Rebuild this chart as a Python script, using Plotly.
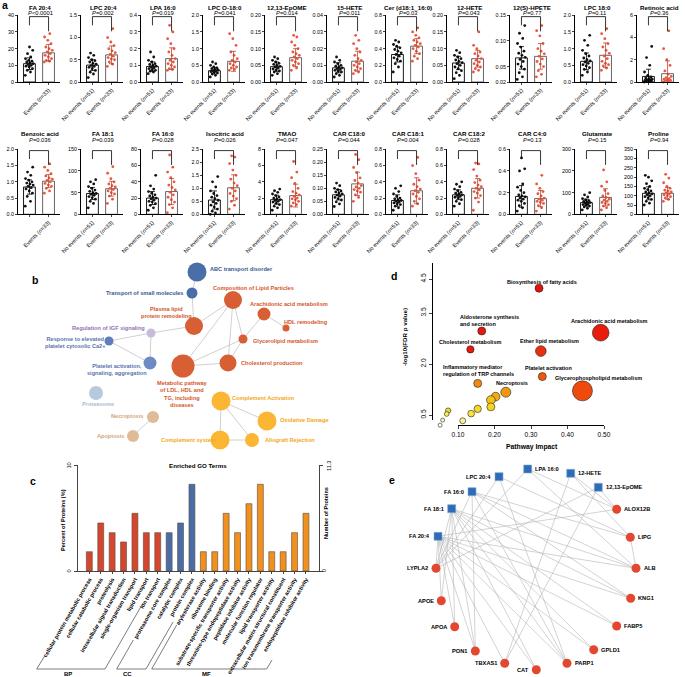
import plotly.graph_objects as go

W, H = 685, 677
FONT = "Liberation Sans, Arial, Helvetica, sans-serif"


def px2x(px):
    return px / W


def px2y(py):
    return 1 - py / H

# ======================= Panel a data =======================
a_titles = ["FA 20:4", "LPC 20:4", "LPA 16:0", "LPC O-18:0", "12,13-EpOME", "15-HETE",
            "Cer (d18:1_16:0)", "12-HETE", "12(S)-HPETE", "LPC 18:0", "Retinoic acid",
            "Benzoic acid", "FA 18:1", "FA 16:0", "Isocitric acid", "TMAO", "CAR C18:0",
            "CAR C18:1", "CAR C18:2", "CAR C4:0", "Glutamate", "Proline"]
a_pvalues = ["<0.0001", "=0.002", "=0.019", "=0.041", "=0.014", "=0.011", "=0.03", "=0.043",
             "=0.77", "=0.11", "=0.36", "=0.036", "=0.039", "=0.028", "=0.026", "=0.047",
             "=0.044", "=0.004", "=0.028", "=0.13", "=0.15", "=0.94"]
a_groups = ["No events (<i>n</i>=51)", "Events (<i>n</i>=33)"]
a_mean_noevents = [11, 0.38, 0.093, 0.34, 0.046, 0.0085, 0.33, 0.057, 0.067, 0.62, 0.5,
                   0.84, 48, 20, 0.55, 1.8, 0.075, 0.17, 0.24, 0.165, 54, 113]
a_sd_noevents = [3.5, 0.12, 0.028, 0.1, 0.014, 0.003, 0.09, 0.02, 0.022, 0.25, 0.65,
                 0.22, 14, 8, 0.35, 0.55, 0.02, 0.07, 0.06, 0.1, 16, 35]
a_mean_events = [17.5, 0.61, 0.14, 0.62, 0.073, 0.0125, 0.43, 0.07, 0.07, 0.8, 0.75,
                 1.02, 59, 28, 1.02, 2.3, 0.117, 0.29, 0.32, 0.145, 78, 113]
a_sd_events = [5, 0.2, 0.065, 0.3, 0.027, 0.006, 0.09, 0.025, 0.025, 0.37, 1.15,
               0.2, 17, 16, 0.5, 1.4, 0.045, 0.16, 0.12, 0.075, 40, 32]
a_yticks = [
    ["0", "10", "20", "30", "40"], ["0.0", "0.5", "1.0", "1.5"], ["0.0", "0.1", "0.2", "0.3", "0.4"],
    ["0.0", "0.5", "1.0", "1.5", "2.0"], ["0.00", "0.05", "0.10", "0.15", "0.20"],
    ["0.00", "0.01", "0.02", "0.03", "0.04"], ["0.0", "0.2", "0.4", "0.6", "0.8"],
    ["0.00", "0.05", "0.10", "0.15", "0.20"], ["0.02", "0.05", "0.10", "0.15"],
    ["0.0", "0.5", "1.0", "1.5", "2.0"], ["0", "2", "4", "6"],
    ["0.0", "0.5", "1.0", "1.5", "2.0"], ["0", "50", "100", "150"], ["0", "20", "40", "60", "80"],
    ["0.0", "0.5", "1.0", "1.5", "2.0", "2.5"], ["0", "2", "4", "6", "8"],
    ["0.00", "0.05", "0.10", "0.15", "0.20", "0.25"], ["0.0", "0.2", "0.4", "0.6", "0.8"],
    ["0.0", "0.2", "0.4", "0.6", "0.8"], ["0.0", "0.2", "0.4", "0.6"], ["0", "100", "200", "300"],
    ["0", "50", "100", "150", "200", "250", "300", "350"]]
a_dots_noevents = [
    [4, 6, 7, 8, 9, 9.5, 10, 10.5, 11, 11.5, 12, 12.5, 13, 14, 15, 17, 19, 21],
    [0.1, 0.18, 0.22, 0.26, 0.3, 0.33, 0.35, 0.37, 0.4, 0.42, 0.45, 0.48, 0.5, 0.55, 0.6, 0.65],
    [0.05, 0.06, 0.065, 0.07, 0.075, 0.08, 0.085, 0.09, 0.095, 0.1, 0.105, 0.11, 0.12, 0.13, 0.15, 0.18],
    [0.15, 0.2, 0.24, 0.27, 0.29, 0.31, 0.33, 0.34, 0.36, 0.38, 0.4, 0.42, 0.45, 0.5, 0.55, 0.6],
    [0.02, 0.025, 0.03, 0.033, 0.036, 0.039, 0.042, 0.045, 0.047, 0.05, 0.053, 0.056, 0.06, 0.065, 0.07, 0.075],
    [0.003, 0.004, 0.005, 0.006, 0.0065, 0.007, 0.0075, 0.008, 0.0085, 0.009, 0.0095, 0.01, 0.011, 0.012, 0.013, 0.015],
    [0.12, 0.18, 0.22, 0.25, 0.27, 0.29, 0.31, 0.33, 0.35, 0.37, 0.39, 0.41, 0.43, 0.45, 0.48, 0.5],
    [0.01, 0.02, 0.028, 0.034, 0.04, 0.045, 0.05, 0.055, 0.058, 0.062, 0.066, 0.07, 0.075, 0.08, 0.088, 0.095],
    [0.025, 0.03, 0.038, 0.045, 0.05, 0.055, 0.06, 0.064, 0.068, 0.072, 0.076, 0.08, 0.088, 0.095, 0.105, 0.115, 0.13],
    [0.2, 0.3, 0.38, 0.43, 0.48, 0.52, 0.56, 0.6, 0.63, 0.67, 0.72, 0.78, 0.85, 0.95, 1.1, 1.25, 1.4],
    [0.0, 0.05, 0.08, 0.1, 0.12, 0.15, 0.18, 0.2, 0.25, 0.3, 0.35, 0.45, 0.6, 0.9, 1.5, 2.2, 3.2],
    [0.25, 0.4, 0.55, 0.65, 0.72, 0.78, 0.82, 0.86, 0.9, 0.93, 0.96, 1.0, 1.05, 1.1, 1.2, 1.3, 1.45],
    [15, 25, 30, 35, 38, 41, 44, 46, 48, 50, 53, 56, 60, 64, 70, 75, 80],
    [5, 8, 11, 13, 15, 16, 17.5, 19, 20, 21, 22.5, 24, 26, 28, 31, 35, 48],
    [0.0, 0.05, 0.12, 0.2, 0.28, 0.35, 0.42, 0.48, 0.54, 0.6, 0.66, 0.72, 0.8, 0.9, 1.05, 1.25, 1.45],
    [0.5, 0.8, 1.0, 1.2, 1.35, 1.5, 1.6, 1.7, 1.8, 1.9, 2.0, 2.15, 2.3, 2.5, 2.7, 2.9, 3.1],
    [0.03, 0.04, 0.048, 0.055, 0.06, 0.065, 0.07, 0.074, 0.078, 0.082, 0.086, 0.09, 0.095, 0.1, 0.11, 0.12],
    [0.05, 0.08, 0.1, 0.12, 0.13, 0.14, 0.15, 0.16, 0.17, 0.18, 0.19, 0.2, 0.22, 0.25, 0.28, 0.32, 0.35],
    [0.1, 0.13, 0.16, 0.18, 0.2, 0.21, 0.22, 0.23, 0.24, 0.25, 0.26, 0.27, 0.29, 0.31, 0.34, 0.37, 0.4],
    [0.03, 0.06, 0.08, 0.1, 0.12, 0.13, 0.14, 0.15, 0.16, 0.17, 0.18, 0.2, 0.22, 0.25, 0.28, 0.4, 0.42, 0.52],
    [20, 28, 34, 38, 42, 45, 48, 51, 54, 57, 60, 63, 67, 72, 80, 90, 100],
    [50, 60, 70, 80, 88, 95, 100, 105, 110, 115, 120, 126, 133, 140, 150, 165, 180, 200, 210]]
a_dots_events = [
    [12, 12.5, 13, 14, 15, 16, 17, 18, 19, 20, 21, 23, 25, 27, 29],
    [0.35, 0.4, 0.45, 0.5, 0.52, 0.55, 0.58, 0.62, 0.66, 0.7, 0.75, 0.82, 0.9, 1.0, 1.2],
    [0.07, 0.075, 0.08, 0.09, 0.1, 0.11, 0.12, 0.13, 0.14, 0.16, 0.18, 0.2, 0.23, 0.26, 0.3, 0.34],
    [0.35, 0.38, 0.42, 0.45, 0.5, 0.55, 0.6, 0.65, 0.7, 0.8, 0.9, 1.1, 1.3, 1.45],
    [0.035, 0.042, 0.05, 0.055, 0.06, 0.065, 0.07, 0.075, 0.08, 0.085, 0.09, 0.1, 0.11, 0.12, 0.135, 0.14],
    [0.005, 0.006, 0.007, 0.008, 0.009, 0.01, 0.011, 0.012, 0.013, 0.014, 0.016, 0.018, 0.02, 0.023, 0.025, 0.028],
    [0.25, 0.28, 0.31, 0.34, 0.37, 0.4, 0.42, 0.44, 0.46, 0.48, 0.5, 0.53, 0.56, 0.6, 0.65],
    [0.03, 0.035, 0.04, 0.045, 0.05, 0.055, 0.06, 0.065, 0.07, 0.078, 0.085, 0.09, 0.1, 0.11, 0.15],
    [0.03, 0.035, 0.042, 0.05, 0.055, 0.06, 0.065, 0.07, 0.075, 0.08, 0.085, 0.095, 0.11, 0.12, 0.13],
    [0.35, 0.42, 0.48, 0.52, 0.56, 0.62, 0.7, 0.78, 0.86, 0.95, 1.05, 1.15, 1.3, 1.45, 1.6],
    [0.0, 0.05, 0.1, 0.15, 0.2, 0.25, 0.3, 0.4, 0.5, 0.7, 1.0, 1.5, 2.0, 3.0, 4.6],
    [0.65, 0.72, 0.8, 0.86, 0.9, 0.95, 1.0, 1.04, 1.08, 1.12, 1.18, 1.25, 1.35, 1.45, 1.55],
    [25, 35, 42, 47, 50, 54, 57, 60, 63, 66, 70, 75, 82, 95, 110],
    [2, 8, 12, 15, 18, 21, 24, 27, 30, 33, 36, 40, 45, 52, 58, 73],
    [0.2, 0.35, 0.5, 0.6, 0.7, 0.8, 0.9, 1.0, 1.1, 1.2, 1.35, 1.5, 1.7, 1.95, 2.2, 2.25],
    [1.0, 1.2, 1.4, 1.6, 1.8, 1.9, 2.0, 2.2, 2.4, 2.6, 2.8, 3.2, 3.8, 4.5, 5.2, 6.5],
    [0.05, 0.065, 0.075, 0.085, 0.09, 0.095, 0.1, 0.105, 0.11, 0.12, 0.13, 0.14, 0.16, 0.18, 0.21, 0.23],
    [0.1, 0.13, 0.16, 0.19, 0.22, 0.25, 0.27, 0.29, 0.31, 0.34, 0.37, 0.42, 0.5, 0.6, 0.7],
    [0.05, 0.15, 0.2, 0.23, 0.26, 0.28, 0.3, 0.32, 0.34, 0.36, 0.39, 0.42, 0.47, 0.55, 0.62, 0.63],
    [0.03, 0.06, 0.08, 0.1, 0.11, 0.12, 0.13, 0.14, 0.15, 0.17, 0.19, 0.21, 0.24, 0.28, 0.36],
    [20, 30, 38, 45, 50, 55, 60, 65, 70, 78, 85, 95, 110, 130, 150, 205],
    [70, 80, 88, 95, 100, 105, 110, 115, 120, 125, 130, 140, 150, 170, 195, 215]]

# ======================= Panel b data =======================
b_terms = ["ABC transport disorder", "Transport of small molecules", "Composition of Lipid Particles",
           "Arachidonic acid metabolism", "HDL remodeling", "Plasma lipid protein remodeling",
           "Regulation of IGF signaling", "Response to elevated platelet cytosolic Ca2+",
           "Glycerolipid metabolism", "Platelet activation, signaling, aggregation",
           "Metabolic pathway of LDL, HDL and TG, including diseases", "Cholesterol production",
           "Proteasome", "Complement Activation", "Necroptosis", "Oxidative Damage", "Apoptosis",
           "Complement system", "Allograft Rejection"]
b_cluster = ["transport", "transport", "lipid", "lipid", "lipid", "lipid", "igf", "platelet", "lipid",
             "platelet", "lipid", "lipid", "proteasome", "complement", "death", "complement", "death",
             "complement", "complement"]
b_node_x = [197, 192, 233, 264, 286, 194, 151, 109, 243, 150, 183, 228, 96, 221, 153, 267, 133, 220, 252]
b_node_y = [272, 293, 300, 314, 328, 326, 333, 341, 339, 363, 366, 363, 393, 401, 417, 421, 436, 440, 440]
b_node_weight = [19, 11, 18, 13, 7, 18, 9, 9, 9, 13, 23, 17, 14, 19, 12, 19, 12, 19, 14]
b_links = [(0, 1), (1, 5), (2, 5), (2, 10), (2, 11), (2, 8), (3, 4), (3, 8), (8, 11), (8, 10),
           (10, 11), (5, 6), (6, 7), (6, 9), (7, 9), (13, 15), (13, 17), (13, 18), (17, 18), (14, 16)]

# ======================= Panel c data =======================
c_terms = ["cellular protein metabolic process", "cellular catabolic process", "proteolysis",
           "intracellular signal transduction", "single-organism transport", "lipid transport",
           "ion transport", "proteasome core complex", "catalytic complex", "protein complex",
           "arylesterase activity", "ribosome binding", "substrate-specific transporter activity",
           "threonine-type endopeptidase activity", "peptidase inhibitor activity",
           "molecular function regulator", "lipid transporter activity",
           "extracellular matrix structural constituent", "ion transmembrane transporter activity",
           "endopeptidase inhibitor activity"]
c_category = ["BP"] * 7 + ["CC"] * 3 + ["MF"] * 10
c_percent = [1.82, 4.53, 3.62, 2.74, 5.44, 3.62, 3.62, 3.62, 4.53, 8.18,
             1.82, 1.82, 5.44, 3.62, 6.35, 8.18, 1.82, 1.82, 3.62, 5.44]

# ======================= Panel d data =======================
d_pathways = ["Biosynthesis of fatty acids", "Aldosterone synthesis and secretion",
              "Cholesterol metabolism", "Arachidonic acid metabolism", "Ether lipid metabolism",
              "Platelet activation", "Glycerophospholipid metabolism",
              "Inflammatory mediator regulation of TRP channels", "Necroptosis",
              "", "", "", "", "", "", "", "", "", ""]
d_impact = [0.322, 0.165, 0.134, 0.491, 0.327, 0.331, 0.441, 0.154, 0.231,
            0.203, 0.190, 0.190, 0.154, 0.136, 0.113, 0.073, 0.069, 0.058, 0.051]
d_neglogp = [4.23, 2.97, 2.43, 2.92, 2.38, 1.63, 1.21, 1.43, 1.17,
             1.04, 0.94, 0.74, 0.68, 0.54, 0.33, 0.63, 0.53, 0.35, 0.20]

# ======================= Panel e data =======================
e_nodes = ["LPA 16:0", "LPC 20:4", "12-HETE", "FA 16:0", "12,13-EpOME", "FA 18:1", "FA 20:4",
           "ALOX12B", "LIPG", "ALB", "KNG1", "FABP5", "GPLD1", "PARP1", "CAT", "TBXAS1",
           "PON1", "APOA", "APOE", "LYPLA2"]
e_kind = ["metabolite"] * 7 + ["protein"] * 13
e_node_x = [527.7, 499, 570.7, 472, 598.3, 451.7, 438, 616.7, 630.3, 636, 630.7, 616.7, 593.7,
            567, 536.3, 504.7, 475.3, 454.7, 441.3, 436]
e_node_y = [469, 476.7, 473.3, 491.7, 487.3, 508.7, 536.3, 509.3, 537.3, 568.3, 598.3, 626,
            649.7, 663.3, 669.7, 663.3, 651, 626.7, 600.7, 568.3]
e_links = [("FA 20:4", t) for t in ["LYPLA2", "APOE", "APOA", "PON1", "TBXAS1", "CAT", "PARP1",
                                     "GPLD1", "FABP5", "KNG1", "ALB", "ALOX12B"]] + \
          [("FA 18:1", t) for t in ["LYPLA2", "APOE", "APOA", "PON1", "CAT", "PARP1", "GPLD1",
                                     "FABP5", "KNG1", "ALB"]] + \
          [("FA 16:0", t) for t in ["LYPLA2", "PON1", "PARP1", "KNG1", "ALB", "LIPG"]] + \
          [("LPC 20:4", t) for t in ["LYPLA2", "LIPG", "PARP1"]] + \
          [("LPA 16:0", t) for t in ["LYPLA2", "ALB", "ALOX12B"]] + \
          [("12-HETE", t) for t in ["ALOX12B", "TBXAS1", "LIPG"]] + \
          [("12,13-EpOME", t) for t in ["ALOX12B", "TBXAS1", "LYPLA2"]] + \
          [("LIPG", "ALB")]

# ======================= Build figure =======================
fig = go.Figure()
layout = dict(width=W, height=H, margin=dict(l=0, r=0, t=0, b=0, autoexpand=False), autosize=False,
              template="none",
              paper_bgcolor="white", plot_bgcolor="rgba(0,0,0,0)", showlegend=False,
              font=dict(family=FONT, size=6, color="black"))
annotations = []
shapes = []
counter = [0]


def new_axes():
    counter[0] += 1
    n = counter[0]
    s = "" if n == 1 else str(n)
    return "x" + s, "y" + s, "xaxis" + s, "yaxis" + s


def ann(text, x, y, size=6, color="black", xanchor="center", yanchor="middle", angle=0,
        bold=False, xref="paper", yref="paper"):
    if bold:
        text = "<b>" + text + "</b>"
    annotations.append(dict(text=text, x=x, y=y, xref=xref, yref=yref, showarrow=False,
                            font=dict(size=size, color=color, family=FONT),
                            xanchor=xanchor, yanchor=yanchor, textangle=angle))


def ann_px(text, px, py, **kw):
    ann(text, px2x(px), px2y(py), **kw)


RED = "#e8573f"
# ---------------- Panel a ----------------
a_axis_left = [18, 81, 141, 203, 265, 327, 386, 447, 510, 575, 637]
a_rows = [dict(top=15.3, bot=82.0, title=7.3, p=13.0), dict(top=149.3, bot=214.3, title=134.0, p=140.0)]
plot_w = 42
for i in range(22):
    row = a_rows[i // 11]
    left = a_axis_left[i % 11]
    xr, yr, xk, yk = new_axes()
    tv = [float(t) for t in a_yticks[i]]
    ymin, ymax = tv[0], tv[-1]
    rng = ymax - ymin
    layout[xk] = dict(domain=[px2x(left), px2x(left + plot_w)], range=[-0.6, 1.6], anchor=yr,
                      automargin=False,
                      showline=True, linecolor="black", linewidth=0.8, ticks="outside", ticklen=2,
                      tickwidth=0.8, tickvals=[0, 1], ticktext=a_groups, tickangle=-45,
                      tickfont=dict(size=5.6, family=FONT), showgrid=False, zeroline=False,
                      fixedrange=True)
    layout[yk] = dict(domain=[px2y(row["bot"]), px2y(row["top"])], range=[ymin, ymax], anchor=xr,
                      automargin=False,
                      showline=True, linecolor="black", linewidth=0.8, ticks="outside", ticklen=2,
                      tickwidth=0.8, tickvals=tv, ticktext=a_yticks[i],
                      tickfont=dict(size=5.4, family=FONT), showgrid=False, zeroline=False,
                      fixedrange=True)
    fig.add_trace(go.Bar(x=[0, 1], y=[a_mean_noevents[i], a_mean_events[i]], width=0.62,
                         marker=dict(color="white", line=dict(color=["black", "#555555"], width=0.9)),
                         xaxis=xr, yaxis=yr, hoverinfo="skip"))
    for g, (vals, col) in enumerate([(a_dots_noevents[i], "#111111"), (a_dots_events[i], RED)]):
        xs = [g + ((j * 0.618034) % 1 - 0.5) * 0.44 for j in range(len(vals))]
        fig.add_trace(go.Scatter(x=xs, y=vals, mode="markers", xaxis=xr, yaxis=yr,
                                 marker=dict(size=2.8, color=col, line=dict(width=0)),
                                 hoverinfo="skip", cliponaxis=False))
    for g, (m, sd, col) in enumerate([(a_mean_noevents[i], a_sd_noevents[i], "black"),
                                      (a_mean_events[i], a_sd_events[i], "#b04a3a")]):
        fig.add_trace(go.Scatter(x=[g], y=[m], mode="markers", xaxis=xr, yaxis=yr,
                                 marker=dict(size=1, opacity=0),
                                 error_y=dict(type="data", array=[sd], visible=True, color=col,
                                              thickness=0.8, width=2.5),
                                 hoverinfo="skip"))
    yt = ymax - 0.02 * rng
    yl = yt - 0.13 * rng
    yrr = yt - 0.22 * rng
    shapes.append(dict(type="path", xref=xr, yref=yr,
                       path=f"M 0 {yl} L 0 {yt} L 1 {yt} L 1 {yrr}",
                       line=dict(color="black", width=0.8)))
    ann_px(a_titles[i], left + 22, row["title"], size=6.2, bold=True)
    ann_px("<i>P</i>" + a_pvalues[i], left + 22, row["p"], size=5.8)

# ---------------- Panel b ----------------
xr, yr, xk, yk = new_axes()
layout[xk] = dict(domain=[px2x(0), px2x(345)], range=[0, 345], anchor=yr, visible=False,
                  fixedrange=True, automargin=False)
layout[yk] = dict(domain=[px2y(462), px2y(258)], range=[462, 258], anchor=xr, visible=False,
                  fixedrange=True, automargin=False)
for a, b in b_links:
    fig.add_trace(go.Scatter(x=[b_node_x[a], b_node_x[b]], y=[b_node_y[a], b_node_y[b]], mode="lines",
                             line=dict(color="#c4c4c4", width=0.8), xaxis=xr, yaxis=yr, hoverinfo="skip"))
b_node_colors = {"transport": "#4a6fa8", "lipid": "#d85f33", "igf": "#c7bcdc", "platelet": "#5f7db8",
                 "proteasome": "#b8c9dd", "complement": "#fbb733", "death": "#dfbc97"}
b_text_colors = {"transport": "#37598f", "lipid": "#d3572b", "igf": "#8e73b5", "platelet": "#5874b0",
                 "proteasome": "#a8bcd5", "complement": "#f4a720", "death": "#d2a67b"}
node_cols = [b_node_colors[c] for c in b_cluster]
node_cols[9] = "#6d8ac2"
fig.add_trace(go.Scatter(x=b_node_x, y=b_node_y, mode="markers", xaxis=xr, yaxis=yr,
                         marker=dict(size=b_node_weight, color=node_cols, line=dict(width=0), opacity=1),
                         hoverinfo="skip", cliponaxis=False))
b_labels = [
    (0, "ABC transport disorder", 208, 269, "left"),
    (1, "Transport of small molecules", 185, 293, "right"),
    (2, "Composition of Lipid Particles", 211, 288, "left"),
    (3, "Arachidonic acid metabolism", 248, 304, "left"),
    (4, "HDL remodeling", 282, 322, "left"),
    (5, "Plasma lipid<br>protein remodeling", 166, 312, "center"),
    (6, "Regulation of IGF signaling", 147, 328, "right"),
    (7, "Response to elevated<br>platelet cytosolic Ca2+", 75, 342, "center"),
    (8, "Glycerolipid metabolism", 251, 341, "left"),
    (9, "Platelet activation,<br>signaling, aggregation", 117, 369, "center"),
    (11, "Cholesterol production", 239, 363, "left"),
    (10, "Metabolic pathway<br>of LDL, HDL and<br>TG, including<br>diseases", 183, 394, "center"),
    (12, "Proteasome", 98, 404, "center"),
    (13, "Complement Activation", 230, 398, "left"),
    (14, "Necroptosis", 145, 416, "right"),
    (15, "Oxidative Damage", 278, 420, "left"),
    (16, "Apoptosis", 126, 436, "right"),
    (17, "Complement system", 218, 440, "right"),
    (18, "Allograft Rejection", 263, 440, "left"),
]
for idx, txt, px, py, anc in b_labels:
    annotations.append(dict(text="<b>" + txt + "</b>", x=px2x(px), y=px2y(py), xref="paper", yref="paper",
                            showarrow=False, xanchor=anc, yanchor="middle", align="center",
                            font=dict(size=5.6, color=b_text_colors[b_cluster[idx]], family=FONT)))

# ---------------- Panel c ----------------
xr, yr, xk, yk = new_axes()
c_colors = {"BP": "#d3472f", "CC": "#4a6da7", "MF": "#f0901f"}
layout[xk] = dict(domain=[px2x(77.7), px2x(319.3)], range=[-1.02, 20.17], anchor=yr, showline=True,
                  automargin=False,
                  linecolor="#444", linewidth=0.8, ticks="outside", ticklen=2, tickwidth=0.6,
                  tickcolor="#444", tickvals=list(range(20)), ticktext=c_terms, tickangle=-60,
                  tickfont=dict(size=5.6, family=FONT, weight="bold"), showgrid=False,
                  zeroline=False, fixedrange=True)
layout[yk] = dict(domain=[px2y(571), px2y(465)], range=[0, 10], anchor=xr, showline=True,
                  automargin=False,
                  linecolor="#444", linewidth=0.8, ticks="outside", ticklen=3, tickwidth=0.6,
                  tickcolor="#444", tickvals=[0, 10], showticklabels=False, showgrid=False,
                  zeroline=False, fixedrange=True)
c_y2 = "y" + str(counter[0] + 100)
layout["yaxis" + str(counter[0] + 100)] = dict(domain=[px2y(571), px2y(465)], range=[0, 11.3],
                                               overlaying=yr, side="right", anchor=xr, showline=True,
                                               automargin=False,
                                               linecolor="#444", linewidth=0.8, ticks="outside",
                                               ticklen=3, tickwidth=0.6, tickcolor="#444",
                                               tickvals=[0, 11.3], showticklabels=False,
                                               showgrid=False, zeroline=False, fixedrange=True)
fig.add_trace(go.Bar(x=list(range(20)), y=c_percent, width=0.52, xaxis=xr, yaxis=yr,
                     marker=dict(color=[c_colors[c] for c in c_category],
                                 line=dict(color="#5a4a40", width=0.6)), hoverinfo="skip"))
fig.add_trace(go.Scatter(x=[0], y=[0], mode="markers", marker=dict(size=1, opacity=0),
                         xaxis=xr, yaxis=c_y2, hoverinfo="skip"))
ann_px("Enriched GO Terms", 198, 465.5, size=6.2, bold=True)
ann_px("10", 68.5, 466, size=5.6, angle=-90)
ann_px("0", 68.5, 571, size=5.6, angle=-90)
ann_px("Percent of Proteins (%)", 63, 520, size=5.6, angle=-90, bold=True)
ann_px("11.3", 329, 466, size=5.6, angle=-90)
ann_px("0", 324, 571, size=5.6, angle=-90)
ann_px("Number of Proteins", 326, 513, size=5.6, angle=-90, bold=True)
c_brackets = [
    ("BP", [(44.7, 656), (36.7, 669), (105, 669), (143, 603)], 68),
    ("CC", [(133.3, 640), (116.7, 669), (146, 669), (173, 622)], 128),
    ("MF", [(176.7, 625), (151.7, 669), (266.7, 669), (272, 660)], 206),
]
for name, pts, lx in c_brackets:
    path = "M " + " L ".join(f"{px2x(a)} {px2y(b)}" for a, b in pts)
    shapes.append(dict(type="path", xref="paper", yref="paper", path=path,
                       line=dict(color="#444", width=0.7)))
    ann_px(name, lx, 673.5, size=6, bold=True)

# ---------------- Panel d ----------------
def dx_val(px):
    return 0.10 + (px - 458) / 365.0


def dy_val(py):
    return 0.5 + (415 - py) / 34.0


xr, yr, xk, yk = new_axes()
layout[xk] = dict(domain=[px2x(425), px2x(650)], range=[dx_val(425), dx_val(650)], anchor=yr,
                  visible=False, fixedrange=True, automargin=False)
layout[yk] = dict(domain=[px2y(432), px2y(258)], range=[dy_val(432), dy_val(258)], anchor=xr,
                  visible=False, fixedrange=True, automargin=False)
d_colors = ["#e8120b", "#e8160b", "#e8180b", "#e81c0b", "#e8300b", "#ec5a0d", "#ee4a0c", "#f08a12",
            "#f1980f", "#f2ab10", "#f5c21a", "#f8d21c", "#f8d826", "#fae43c", "#fbf092", "#eedb24",
            "#f8f064", "#fcfab2", "#fffff2"]
d_sizes = [8, 8, 7.3, 16.7, 10.7, 8, 20, 8, 10, 8.7, 8.7, 8, 7.3, 6.7, 6, 5.3, 4.7, 4, 4]
fig.add_trace(go.Scatter(x=d_impact, y=d_neglogp, mode="markers", xaxis=xr, yaxis=yr,
                         marker=dict(size=d_sizes, color=d_colors, line=dict(color="#222", width=0.6),
                                     opacity=1), hoverinfo="skip", cliponaxis=False))
# decoration axes (R style)
xr2, yr2, xk2, yk2 = new_axes()
layout[xk2] = dict(domain=[px2x(458), px2x(604)], range=[0.10, 0.50], anchor="free", position=px2y(425),
                   automargin=False,
                   showline=True, linecolor="black", linewidth=0.8, ticks="outside",
                   ticklen=3, tickwidth=0.8, tickvals=[0.1, 0.2, 0.3, 0.4, 0.5],
                   ticktext=["0.10", "0.20", "0.30", "0.40", "0.50"], tickfont=dict(size=6.6, family=FONT),
                   showgrid=False, zeroline=False, fixedrange=True)
layout[yk2] = dict(domain=[px2y(420), px2y(263)], range=[dy_val(420), dy_val(263)], anchor="free",
                   position=px2x(432), automargin=False, showline=True, linecolor="black", linewidth=0.8,
                   ticks="outside", ticklen=3, tickwidth=0.8, tickvals=[0.5, 2.0, 3.5, 4.5],
                   ticktext=["0.5", "2.0", "3.5", "4.5"], tickangle=-90,
                   tickfont=dict(size=6.6, family=FONT), showgrid=False, zeroline=False, fixedrange=True)
fig.add_trace(go.Scatter(x=[0.3], y=[2.0], mode="markers", marker=dict(size=1, opacity=0),
                         xaxis=xr2, yaxis=yr2, hoverinfo="skip"))
ann_px("Pathway Impact", 532, 447, size=6.8, bold=True)
ann_px("-log10(FDR p value)", 405, 337, size=6.2, bold=True, angle=-90)
d_label_pos = [
    (0, 541.7, 282.3, "center"), (1, 458, 320.5, "left"), (2, 470, 342, "center"),
    (3, 609.3, 321, "center"), (4, 549, 341.3, "center"), (5, 548.3, 367.7, "center"),
    (6, 598.3, 377.7, "center"), (7, 441, 370.5, "left"), (8, 511.7, 383, "center")]
d_label_text = {1: "Aldosterone synthesis<br>and secretion",
                7: "Inflammatory mediator<br>regulation of TRP channels"}
for idx, px, py, anc in d_label_pos:
    txt = d_label_text.get(idx, d_pathways[idx])
    annotations.append(dict(text="<b>" + txt + "</b>", x=px2x(px), y=px2y(py), xref="paper",
                            yref="paper", showarrow=False, xanchor=anc, yanchor="middle",
                            align="left" if anc == "left" else "center",
                            font=dict(size=5.5, color="black", family=FONT)))

# ---------------- Panel e ----------------
xr, yr, xk, yk = new_axes()
layout[xk] = dict(domain=[px2x(400), px2x(685)], range=[400, 685], anchor=yr, visible=False,
                  fixedrange=True, automargin=False)
layout[yk] = dict(domain=[px2y(677), px2y(460)], range=[677, 460], anchor=xr, visible=False,
                  fixedrange=True, automargin=False)
pos = {n: (e_node_x[k], e_node_y[k]) for k, n in enumerate(e_nodes)}
ex, ey = [], []
for a, b in e_links:
    ex += [pos[a][0], pos[b][0], None]
    ey += [pos[a][1], pos[b][1], None]
fig.add_trace(go.Scatter(x=ex, y=ey, mode="lines", line=dict(color="#b5b5b5", width=0.6),
                         xaxis=xr, yaxis=yr, hoverinfo="skip"))
met = [k for k in range(len(e_nodes)) if e_kind[k] == "metabolite"]
pro = [k for k in range(len(e_nodes)) if e_kind[k] == "protein"]
fig.add_trace(go.Scatter(x=[e_node_x[k] for k in pro], y=[e_node_y[k] for k in pro], mode="markers",
                         marker=dict(symbol="circle", size=9, color="#e4472f", line=dict(width=0)),
                         xaxis=xr, yaxis=yr, hoverinfo="skip", cliponaxis=False))
fig.add_trace(go.Scatter(x=[e_node_x[k] for k in met], y=[e_node_y[k] for k in met], mode="markers",
                         marker=dict(symbol="square", size=8, color="#2e6db6",
                                     line=dict(width=0.6, color="#7fa7d8")),
                         xaxis=xr, yaxis=yr, hoverinfo="skip", cliponaxis=False))
right_side = {"LPA 16:0", "12-HETE", "12,13-EpOME", "ALOX12B", "LIPG", "ALB", "KNG1", "FABP5",
              "GPLD1", "PARP1"}
for k, n in enumerate(e_nodes):
    if n in right_side:
        annotations.append(dict(text="<b>" + n + "</b>", x=e_node_x[k] + 5.5, y=e_node_y[k], xref=xr,
                                yref=yr, showarrow=False, xanchor="left", yanchor="middle",
                                font=dict(size=5.7, color="black", family=FONT)))
    else:
        annotations.append(dict(text="<b>" + n + "</b>", x=e_node_x[k] - 5.5, y=e_node_y[k], xref=xr,
                                yref=yr, showarrow=False, xanchor="right", yanchor="middle",
                                font=dict(size=5.7, color="black", family=FONT)))

# ---------------- Panel letters ----------------
for letter, px, py in [("a", 5, 5), ("b", 35, 280), ("c", 33, 481), ("d", 394, 276), ("e", 392, 480)]:
    ann_px(letter, px, py, size=10.5, bold=True)

layout["annotations"] = annotations
layout["shapes"] = shapes
fig.update_layout(**layout)
fig.write_html("out.html", config={"displayModeBar": False},
               post_script="document.documentElement.style.margin='0';"
                           "document.body.style.margin='0';document.body.style.padding='0';"
                           "document.body.style.overflow='hidden';")
